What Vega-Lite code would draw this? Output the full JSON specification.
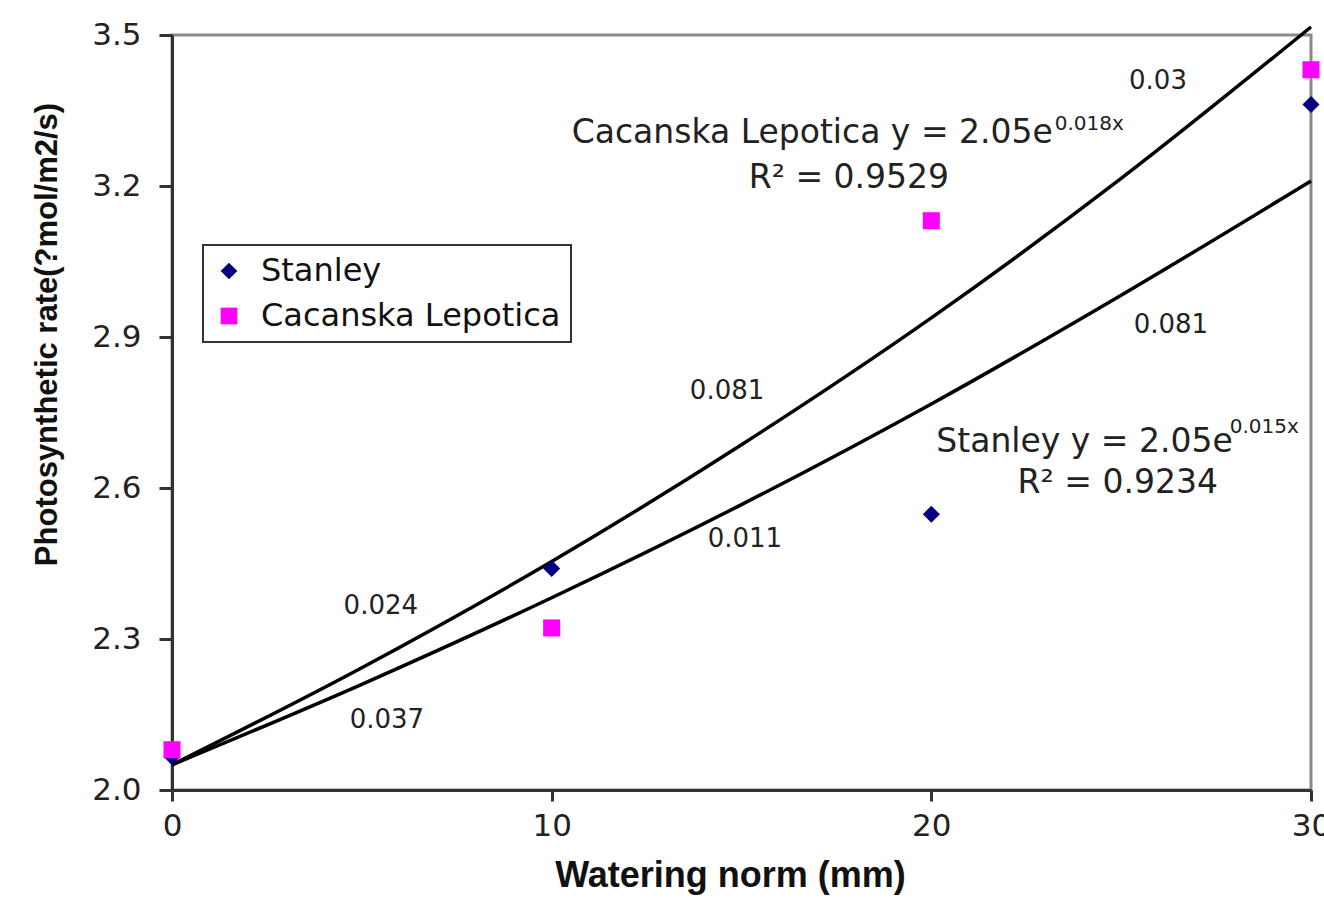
{
  "$schema": "https://vega.github.io/schema/vega-lite/v6.json",
  "width": 1139,
  "height": 755,
  "autosize": {"type": "none"},
  "padding": {"left": 172, "top": 35, "right": 13, "bottom": 113},
  "background": "white",
  "config": {
    "font": "DejaVu Sans",
    "view": {"stroke": "#8a8a8a", "strokeWidth": 3},
    "legend": {
      "strokeColor": "#333333",
      "strokeWidth": 2,
      "fillColor": "white",
      "padding": 10,
      "labelFontSize": 32,
      "labelColor": "#111111",
      "labelFont": "DejaVu Sans",
      "symbolSize": 280,
      "symbolStrokeWidth": 0,
      "labelOffset": 16,
      "rowPadding": 13,
      "labelLimit": 0
    }
  },
  "datasets": {
    "trend": [
      {"series": "Cacanska Lepotica", "x": 0, "y": 2.05},
      {"series": "Cacanska Lepotica", "x": 5, "y": 2.243},
      {"series": "Cacanska Lepotica", "x": 10, "y": 2.454},
      {"series": "Cacanska Lepotica", "x": 15, "y": 2.686},
      {"series": "Cacanska Lepotica", "x": 20, "y": 2.938},
      {"series": "Cacanska Lepotica", "x": 25, "y": 3.215},
      {"series": "Cacanska Lepotica", "x": 30, "y": 3.516},
      {"series": "Stanley", "x": 0, "y": 2.05},
      {"series": "Stanley", "x": 5, "y": 2.21},
      {"series": "Stanley", "x": 10, "y": 2.382},
      {"series": "Stanley", "x": 15, "y": 2.567},
      {"series": "Stanley", "x": 20, "y": 2.767},
      {"series": "Stanley", "x": 25, "y": 2.983},
      {"series": "Stanley", "x": 30, "y": 3.21}
    ],
    "points": [
      {"series": "Stanley", "x": 0, "y": 2.066},
      {"series": "Stanley", "x": 10, "y": 2.44},
      {"series": "Stanley", "x": 20, "y": 2.548},
      {"series": "Stanley", "x": 30, "y": 3.362},
      {"series": "Cacanska Lepotica", "x": 0, "y": 2.08},
      {"series": "Cacanska Lepotica", "x": 10, "y": 2.322},
      {"series": "Cacanska Lepotica", "x": 20, "y": 3.131},
      {"series": "Cacanska Lepotica", "x": 30, "y": 3.431}
    ],
    "values": [
      {"t": "0.03", "x": 25.97, "y": 3.408},
      {"t": "0.081", "x": 14.62, "y": 2.793},
      {"t": "0.081", "x": 26.31, "y": 2.924},
      {"t": "0.024", "x": 5.5, "y": 2.366},
      {"t": "0.011", "x": 15.09, "y": 2.499},
      {"t": "0.037", "x": 5.66, "y": 2.139}
    ],
    "equations": [
      {"t": "Cacanska Lepotica y = 2.05e", "x": 23.2, "y": 3.286},
      {"t": "Stanley y = 2.05e", "x": 27.94, "y": 2.672}
    ],
    "exponents": [
      {"t": "0.018x", "x": 23.25, "y": 3.312},
      {"t": "0.015x", "x": 27.86, "y": 2.71}
    ],
    "rsquared": [
      {"t": "R² = 0.9529", "x": 17.83, "y": 3.197},
      {"t": "R² = 0.9234", "x": 24.91, "y": 2.59}
    ]
  },
  "encoding": {
    "x": {
      "field": "x",
      "type": "quantitative",
      "scale": {"domain": [0, 30], "nice": false, "zero": false},
      "axis": {
        "title": "Watering norm (mm)",
        "values": [0, 10, 20, 30],
        "format": "d",
        "grid": false,
        "domainColor": "#333333",
        "domainWidth": 3,
        "tickColor": "#333333",
        "tickWidth": 3,
        "tickSize": 11,
        "labelFontSize": 31,
        "labelColor": "#222222",
        "labelPadding": 10,
        "labelFlush": false,
        "labelOverlap": false,
        "titleFont": "Liberation Sans",
        "titleFontWeight": "bold",
        "titleFontSize": 36,
        "titleColor": "#111111",
        "titleX": 558,
        "titleY": 96,
        "titleAlign": "center",
        "titleBaseline": "alphabetic"
      }
    },
    "y": {
      "field": "y",
      "type": "quantitative",
      "scale": {"domain": [2, 3.5], "nice": false, "zero": false},
      "axis": {
        "title": "Photosynthetic rate(?mol/m2/s)",
        "values": [2, 2.3, 2.6, 2.9, 3.2, 3.5],
        "format": ".1f",
        "grid": false,
        "domainColor": "#333333",
        "domainWidth": 3,
        "tickColor": "#333333",
        "tickWidth": 3,
        "tickSize": 13,
        "labelFontSize": 31,
        "labelColor": "#222222",
        "labelPadding": 18,
        "labelFlush": false,
        "labelOverlap": false,
        "titleFont": "Liberation Sans",
        "titleFontWeight": "bold",
        "titleFontSize": 31,
        "titleColor": "#111111",
        "titleAngle": -90,
        "titleX": -125,
        "titleY": 299,
        "titleAlign": "center",
        "titleBaseline": "middle"
      }
    }
  },
  "layer": [
    {
      "data": {"name": "trend"},
      "mark": {"type": "line", "color": "black", "strokeWidth": 3.5, "clip": false, "interpolate": "monotone"},
      "encoding": {"detail": {"field": "series", "type": "nominal"}}
    },
    {
      "data": {"name": "points"},
      "mark": {"type": "point", "filled": true, "size": 290, "opacity": 1, "strokeWidth": 0},
      "encoding": {
        "color": {
          "field": "series",
          "type": "nominal",
          "scale": {"domain": ["Stanley", "Cacanska Lepotica"], "range": ["#000080", "#ff00ff"]},
          "legend": {"title": null, "orient": "none", "legendX": 31, "legendY": 210}
        },
        "shape": {
          "field": "series",
          "type": "nominal",
          "scale": {"domain": ["Stanley", "Cacanska Lepotica"], "range": ["diamond", "square"]},
          "legend": {"title": null, "orient": "none", "legendX": 31, "legendY": 210}
        }
      }
    },
    {
      "data": {"name": "values"},
      "mark": {"type": "text", "fontSize": 26, "color": "#222222", "align": "center", "baseline": "middle"},
      "encoding": {"text": {"field": "t", "type": "nominal"}}
    },
    {
      "data": {"name": "equations"},
      "mark": {"type": "text", "fontSize": 33, "color": "#222222", "align": "right", "baseline": "alphabetic"},
      "encoding": {"text": {"field": "t", "type": "nominal"}}
    },
    {
      "data": {"name": "exponents"},
      "mark": {"type": "text", "fontSize": 20, "color": "#222222", "align": "left", "baseline": "alphabetic"},
      "encoding": {"text": {"field": "t", "type": "nominal"}}
    },
    {
      "data": {"name": "rsquared"},
      "mark": {"type": "text", "fontSize": 33, "color": "#222222", "align": "center", "baseline": "alphabetic"},
      "encoding": {"text": {"field": "t", "type": "nominal"}}
    }
  ]
}
